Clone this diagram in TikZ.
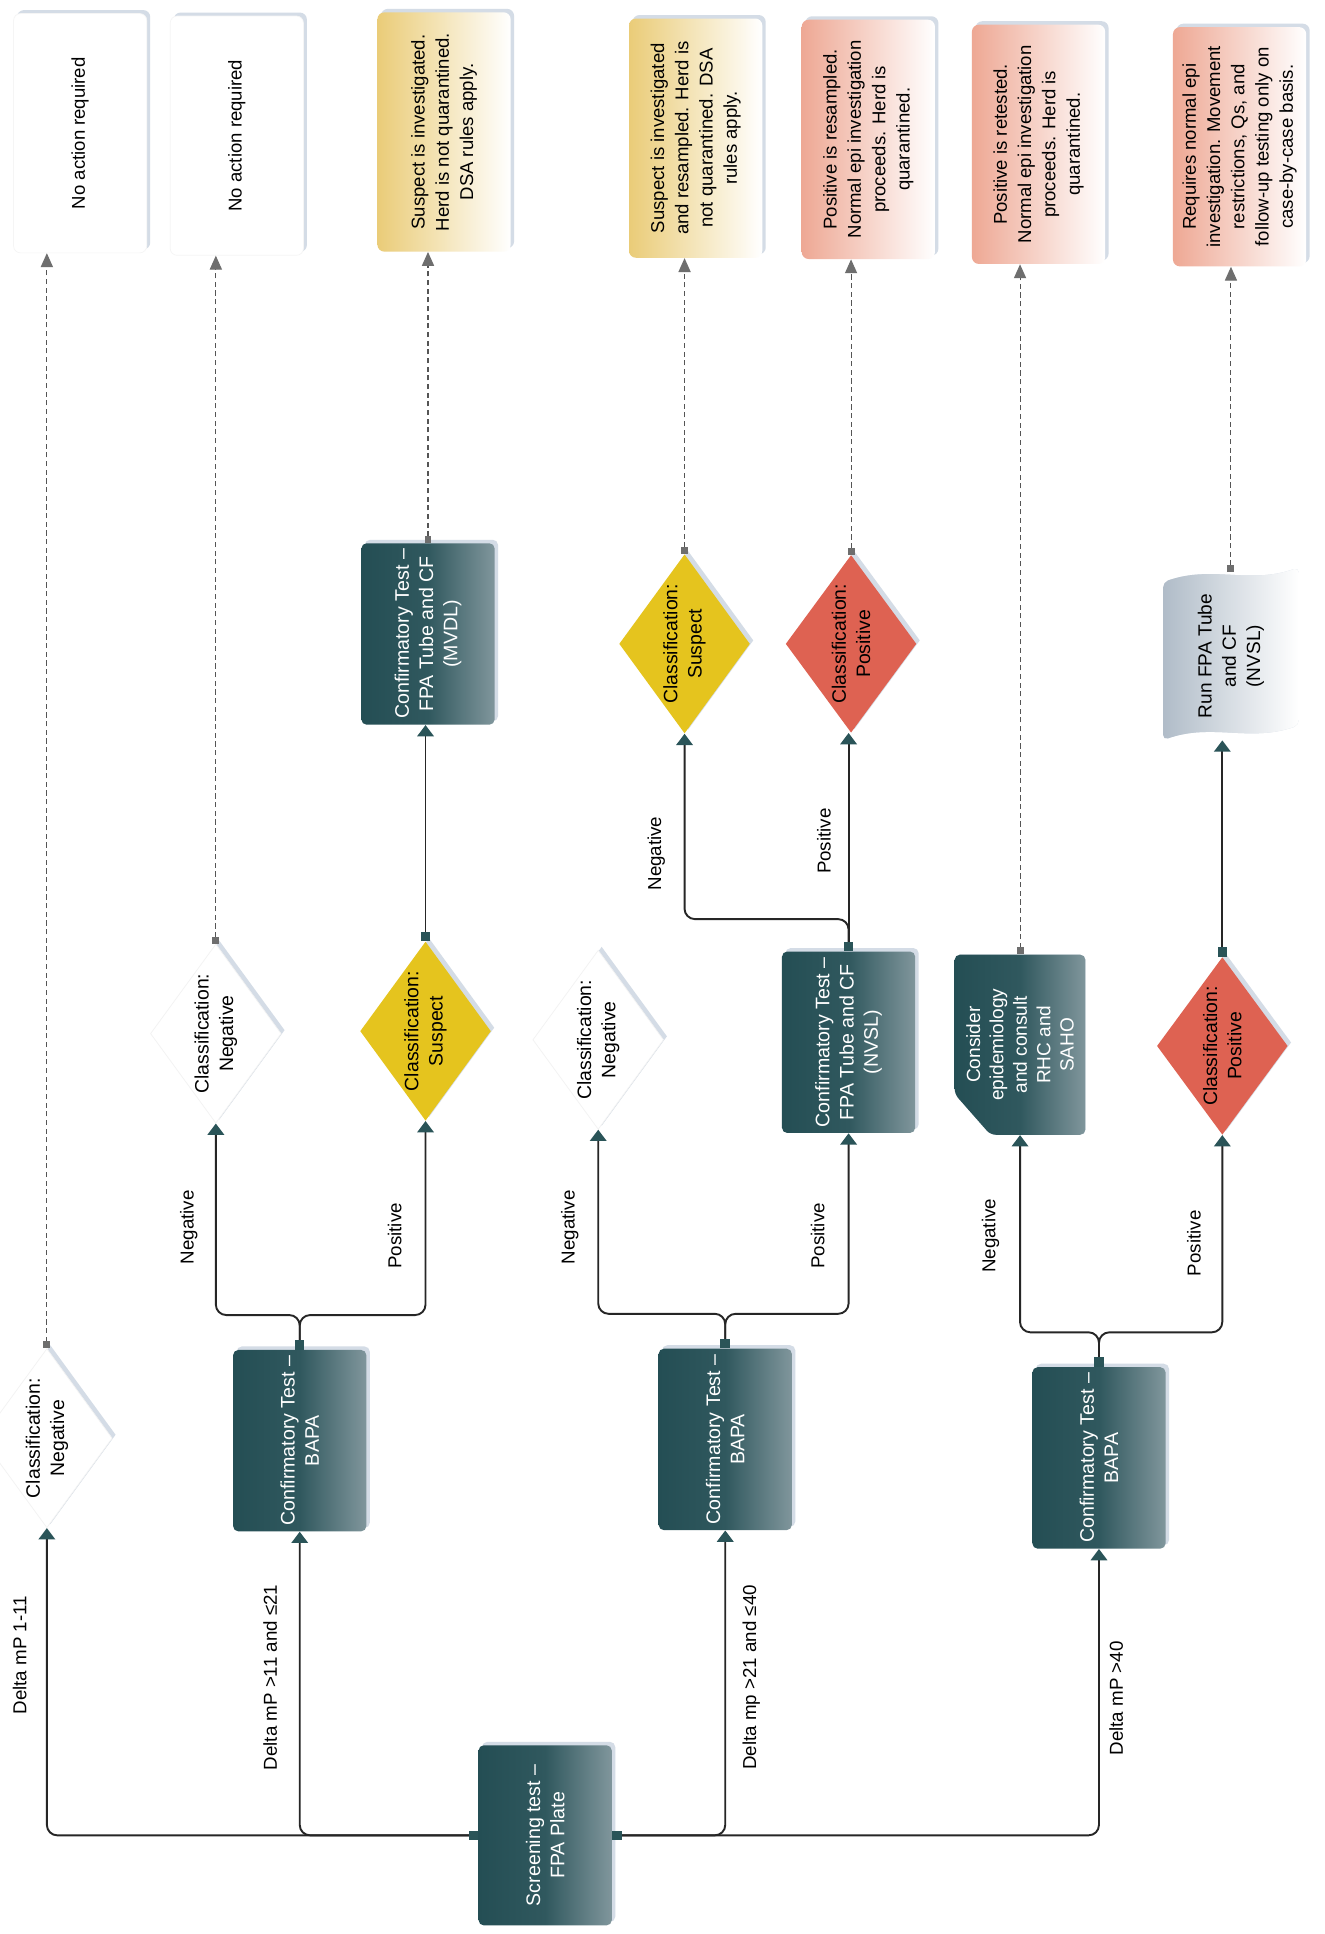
\documentclass[tikz,border=0pt]{standalone}
\usepackage{fontspec}
\setmainfont{Liberation Sans}
\usepackage{tikz}
\usetikzlibrary{arrows.meta,positioning,calc,shapes.geometric,shadows}

\definecolor{tealdark}{RGB}{36,78,84}
\definecolor{tealmid}{RGB}{48,88,94}
\definecolor{teallight}{RGB}{128,150,156}
\definecolor{tealtip}{RGB}{42,84,88}
\definecolor{linegray}{RGB}{38,38,38}
\definecolor{dashgray}{RGB}{85,85,85}
\definecolor{tipgray}{RGB}{110,110,110}
\definecolor{susyellow}{RGB}{229,196,30}
\definecolor{posred}{RGB}{222,98,82}
\definecolor{noteyellow}{RGB}{234,204,120}
\definecolor{notesalmon}{RGB}{238,168,148}
\definecolor{runblue}{RGB}{176,188,200}
\definecolor{glowc}{RGB}{212,220,230}

\tikzset{
  turned/.style={rotate=90, align=center},
  haze/.style={drop shadow={shadow xshift=2pt, shadow yshift=2pt, fill=glowc, opacity=1}},
  teal/.style={left color=tealdark, right color=teallight, middle color=tealmid},
  testbox/.style={turned, rectangle, rounded corners=3pt, minimum width=36.5mm, minimum height=27mm,
    teal, text=white, font=\fontsize{11.3}{14}\selectfont, haze},
  decision/.style={turned, diamond, aspect=1.4, inner sep=0pt, minimum width=36mm, minimum height=26.5mm,
    font=\fontsize{11.2}{14}\selectfont, haze},
  suspect/.style={decision, fill=susyellow},
  positive/.style={decision, fill=posred},
  negative/.style={decision, fill=white, draw=gray!10},
  outbox/.style={turned, rectangle, rounded corners=4pt, minimum width=48.5mm, minimum height=27mm,
    font=\fontsize{10.7}{14}\selectfont, haze},
  quiet/.style={outbox, fill=white, draw=gray!8},
  suspnote/.style={outbox, left color=noteyellow, right color=white},
  posnote/.style={outbox, left color=notesalmon, right color=white},
  lbl/.style={turned, font=\fontsize{10.8}{12}\selectfont, inner sep=1pt},
  flow/.style={draw=linegray, line width=1.1pt, rounded corners=6pt,
    arrows={Square[length=5.5pt,width=5.5pt,color=tealtip]-Triangle[length=6.5pt,width=9.5pt,color=tealtip]}},
  hint/.style={draw=dashgray, line width=0.6pt, dash pattern=on 3pt off 2pt,
    arrows={Square[length=4pt,width=4pt,color=tipgray]-Triangle[length=8pt,width=7pt,color=tipgray]}}
}

\begin{document}
\begin{tikzpicture}[x=0.25mm, y=-0.25mm]
  \fill[white] (0,0) rectangle (1074,1568);
  \path[use as bounding box] (0,0) rectangle (1074,1568);

  % screening and first confirmatory tests
  \node[testbox] (screen) at (442,1488) {Screening test –\\FPA Plate};
  \node[testbox] (bapa1) at (243,1168) {Confirmatory Test –\\BAPA};
  \node[testbox] (bapa2) at (588,1167) {Confirmatory Test –\\BAPA};
  \node[testbox] (bapa3) at (891,1182) {Confirmatory Test –\\BAPA};

  % classifications
  \node[negative] (neg1) at (38,1166) {Classification:\\Negative};
  \node[negative] (neg2) at (175,838) {Classification:\\Negative};
  \node[suspect] (sus1) at (345,836) {Classification:\\Suspect};
  \node[testbox] (mvdl) at (347,514) {Confirmatory Test –\\FPA Tube and CF\\(MVDL)};
  \node[negative] (neg3) at (485,843) {Classification:\\Negative};
  \node[testbox] (nvsl) at (688,845) {Confirmatory Test –\\FPA Tube and CF\\(NVSL)};
  \node[suspect] (sus2) at (555,522) {Classification:\\Suspect};
  \node[positive] (pos1) at (690,522) {Classification:\\Positive};
  \node[positive] (pos2) at (991,848) {Classification:\\Positive};

  % consider box (cut corner)
  \coordinate (consc) at (827,847);
  \fill[glowc, rounded corners=3pt, xshift=2pt, yshift=2pt]
    ($(consc)+(-53,-73)$) -- ($(consc)+(53,-73)$) -- ($(consc)+(53,73)$)
    -- ($(consc)+(-24,73)$) -- ($(consc)+(-53,40)$) -- cycle;
  \shade[teal, rounded corners=3pt]
    ($(consc)+(-53,-73)$) -- ($(consc)+(53,-73)$) -- ($(consc)+(53,73)$)
    -- ($(consc)+(-24,73)$) -- ($(consc)+(-53,40)$) -- cycle;
  \node[turned, text=white, minimum width=36.5mm, minimum height=26.5mm,
        font=\fontsize{11}{13.5}\selectfont] (consider) at (consc)
       {Consider\\epidemiology\\and consult\\RHC and\\SAHO};

  % run box (tape outline)
  \coordinate (runc) at (998,532);
  \fill[glowc, rounded corners=3pt, xshift=2pt, yshift=2pt]
    ($(runc)+(-55,-60)$) .. controls ($(runc)+(-15,-74)$) and ($(runc)+(15,-58)$) .. ($(runc)+(55,-72)$)
    -- ($(runc)+(55,56)$) .. controls ($(runc)+(15,70)$) and ($(runc)+(-15,54)$) .. ($(runc)+(-55,68)$) -- cycle;
  \shade[left color=runblue, right color=white, rounded corners=3pt]
    ($(runc)+(-55,-60)$) .. controls ($(runc)+(-15,-74)$) and ($(runc)+(15,-58)$) .. ($(runc)+(55,-72)$)
    -- ($(runc)+(55,56)$) .. controls ($(runc)+(15,70)$) and ($(runc)+(-15,54)$) .. ($(runc)+(-55,68)$) -- cycle;
  \node[turned, minimum width=34mm, minimum height=27mm, font=\fontsize{11}{14}\selectfont] (run) at (runc)
       {Run FPA Tube\\and CF\\(NVSL)};

  % outcomes
  \node[quiet] (noact1) at (65,108) {No action required};
  \node[quiet] (noact2) at (192,110) {No action required};
  \node[suspnote] (out3) at (360,107) {Suspect is investigated.\\Herd is not quarantined.\\DSA rules apply.};
  \node[suspnote] (out4) at (564,112) {Suspect is investigated\\and resampled. Herd is\\not quarantined. DSA\\rules apply.};
  \node[posnote] (out5) at (704,113) {Positive is resampled.\\Normal epi investigation\\proceeds. Herd is\\quarantined.};
  \node[posnote] (out6) at (842,117) {Positive is retested.\\Normal epi investigation\\proceeds. Herd is\\quarantined.};
  \node[posnote] (out7) at (1005,119) {Requires normal epi\\investigation. Movement\\restrictions, Qs, and\\follow-up testing only on\\case-by-case basis.};

  % branch labels
  \node[lbl] (l1) at (16,1342) {Delta mP 1-11};
  \node[lbl] (l2) at (219,1360) {Delta mP >11 and ≤21};
  \node[lbl] (l3) at (609,1360) {Delta mp >21 and ≤40};
  \node[lbl] (l4) at (905,1377) {Delta mP >40};
  \node[lbl] (n1) at (153,995) {Negative};
  \node[lbl] (p1) at (320,1002) {Positive};
  \node[lbl] (n2) at (462,995) {Negative};
  \node[lbl] (p2) at (663,1002) {Positive};
  \node[lbl] (n3) at (532,692) {Negative};
  \node[lbl] (p3) at (668,682) {Positive};
  \node[lbl] (n4) at (803,1002) {Negative};
  \node[lbl] (p4) at (968,1008) {Positive};

  % solid flow
  \draw[flow] (screen.north) -| (neg1.west);
  \draw[flow] (screen.north) -| (bapa1.west);
  \draw[flow] (screen.south) -| (bapa2.west);
  \draw[flow] (screen.south) -| (bapa3.west);
  \draw[flow] (bapa1.east) -- ++(0,-28) -| (neg2.west);
  \draw[flow] (bapa1.east) -- ++(0,-28) -| (sus1.west);
  \draw[flow] (sus1.east) -- (sus1.east |- mvdl.west);
  \draw[flow] (bapa2.east) -- ++(0,-28) -| (neg3.west);
  \draw[flow] (bapa2.east) -- ++(0,-28) -| (nvsl.west);
  \draw[flow] (nvsl.east) -- ++(0,-26) -| (sus2.west);
  \draw[flow] (nvsl.east) -- (nvsl.east |- pos1.west);
  \draw[flow] (bapa3.east) -- ++(0,-28) -| (consider.west);
  \draw[flow] (bapa3.east) -- ++(0,-28) -| (pos2.west);
  \draw[flow] (pos2.east) -- (pos2.east |- run.west);

  % dashed links to outcomes
  \draw[hint] (neg1.east) -- (neg1.east |- noact1.west);
  \draw[hint] (neg2.east) -- (neg2.east |- noact2.west);
  \draw[hint] (mvdl.east) -- (mvdl.east |- out3.west);
  \draw[hint] (sus2.east) -- (sus2.east |- out4.west);
  \draw[hint] (pos1.east) -- (pos1.east |- out5.west);
  \draw[hint] (consider.east) -- (consider.east |- out6.west);
  \draw[hint] (run.east) -- (run.east |- out7.west);
\end{tikzpicture}
\end{document}
